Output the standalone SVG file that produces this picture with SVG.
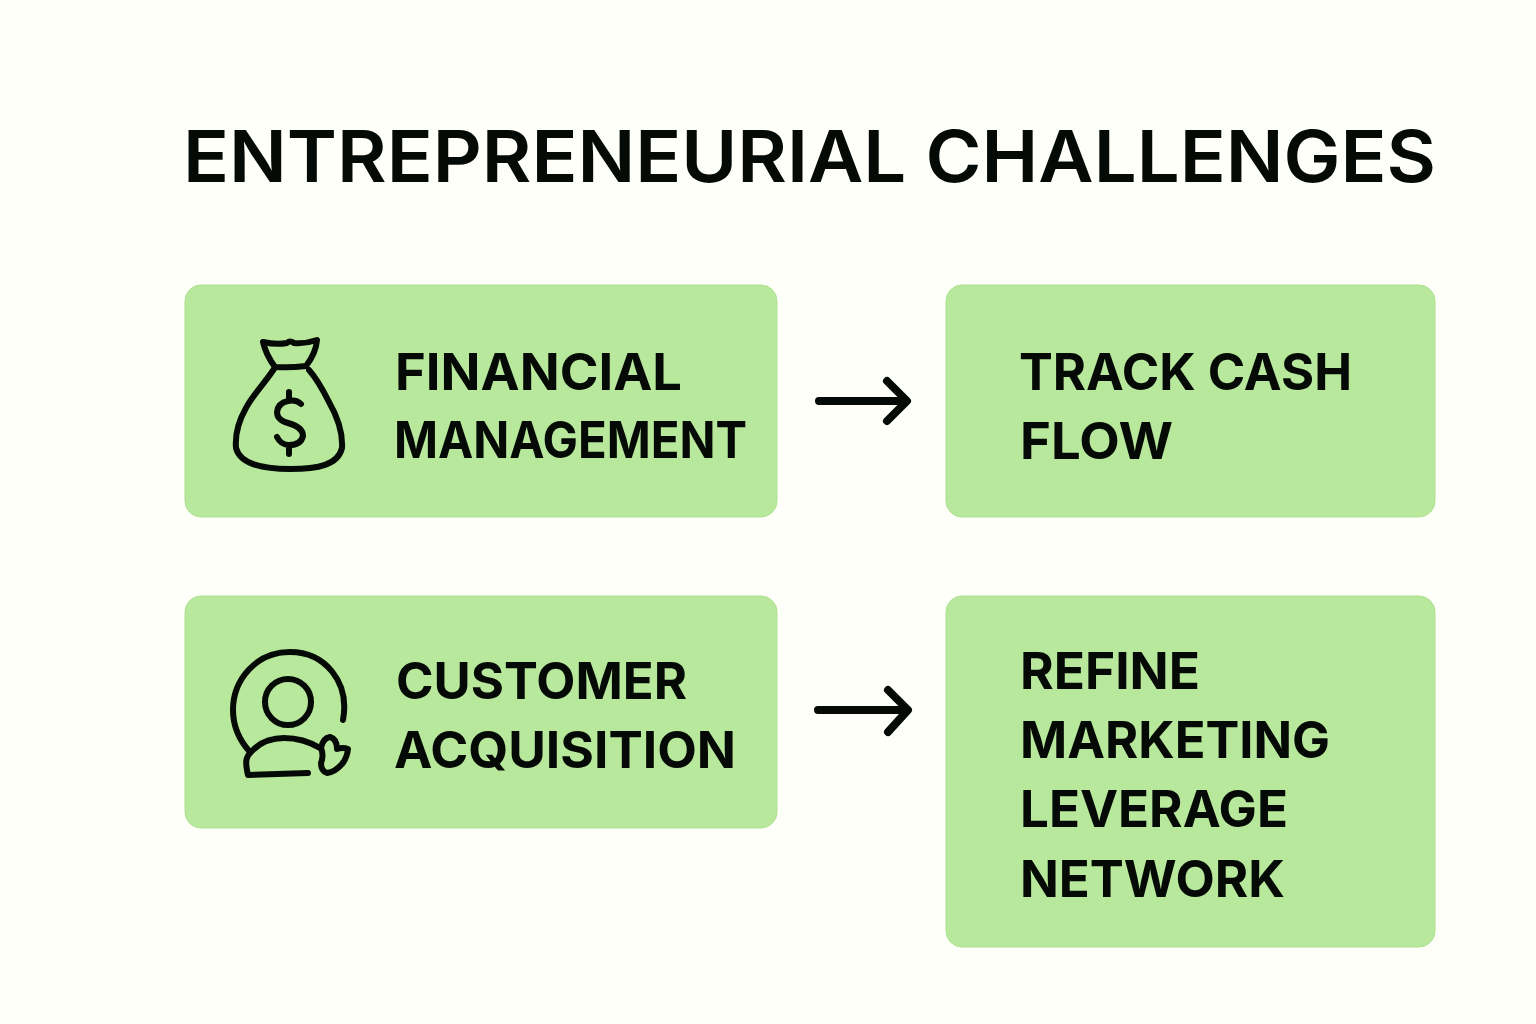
<svg xmlns="http://www.w3.org/2000/svg" width="1536" height="1024" viewBox="0 0 1536 1024">
<style>
.box{fill:#b7e89b;stroke:#aee092;stroke-width:1}
.t{font-family:"Inter","Liberation Sans",sans-serif;font-weight:700;fill:#060a06;font-size:51px}
.title{font-family:"Inter","Liberation Sans",sans-serif;font-weight:600;fill:#060a06;font-size:72px}
.i{fill:none;stroke:#060a06;stroke-width:6;stroke-linecap:round;stroke-linejoin:round}
.a{fill:none;stroke:#060a06;stroke-width:8;stroke-linecap:round;stroke-linejoin:round}
</style>
<rect width="1536" height="1024" fill="#fefff8"/>
<text class="title" x="183" y="182" textLength="1253" lengthAdjust="spacingAndGlyphs">ENTREPRENEURIAL CHALLENGES</text>
<g id="financial"><rect class="box" x="185" y="285" width="592" height="232" rx="16"/>
<path class="i" d="M263 342Q276 345 287 343Q290 340 294 343Q305 344 317 340Q316 353 306 366Q290 368 275 367Q266 355 263 342Z"/>
<path class="i" d="M274 369C264 384 252 396 246 408C238 422 235 436 236 448C240 464 262 469 290 469C318 469 338 465 342 448C343 432 337 416 329 402C323 390 317 379 309 370"/>
<path class="i" d="M301 404Q296 399 288 401Q278 403 277 412Q277 420 288 423Q303 427 303 436Q301 445 289 445Q281 445 277 437M289 392V401M289 446V454"/>
<text class="t" x="395" y="390" textLength="287" lengthAdjust="spacingAndGlyphs">FINANCIAL</text><text class="t" x="394" y="458" textLength="353" lengthAdjust="spacingAndGlyphs">MANAGEMENT</text></g>
<g id="track"><rect class="box" x="946" y="285" width="489" height="232" rx="16"/>
<text class="t" x="1019" y="390" textLength="333" lengthAdjust="spacingAndGlyphs">TRACK CASH</text><text class="t" x="1020" y="459" textLength="153" lengthAdjust="spacingAndGlyphs">FLOW</text></g>
<g id="customer"><rect class="box" x="185" y="596" width="592" height="232" rx="16"/>
<path class="i" d="M343 720C350 682 325 652 290 652C256 652 233 680 233 710C233 727 240 741 250 752"/>
<circle class="i" cx="288" cy="702" r="23"/>
<path class="i" d="M308 773L248 775C245 762 245 757 253 750C262 741 272 738 284 738C298 738 310 742 320 748"/>
<path class="i" d="M321 748Q323 738 330 737Q337 739 337 749Q343 747 348 749Q347 758 342 764Q335 772 327 773Q321 771 321 763Q324 755 321 748Z"/>
<text class="t" x="396" y="699" textLength="291" lengthAdjust="spacingAndGlyphs">CUSTOMER</text><text class="t" x="394" y="768" textLength="342" lengthAdjust="spacingAndGlyphs">ACQUISITION</text></g>
<g id="refine"><rect class="box" x="946" y="596" width="489" height="351" rx="16"/>
<text class="t" x="1020" y="689" textLength="180" lengthAdjust="spacingAndGlyphs">REFINE</text><text class="t" x="1020" y="758" textLength="310" lengthAdjust="spacingAndGlyphs">MARKETING</text><text class="t" x="1020" y="827" textLength="268" lengthAdjust="spacingAndGlyphs">LEVERAGE</text><text class="t" x="1020" y="897" textLength="265" lengthAdjust="spacingAndGlyphs">NETWORK</text></g>
<g id="connectors"><path class="a" d="M819 401H906M887 381L907 401L887 421"/><path class="a" d="M818 710H907M888 690L908 710L888 732"/></g>
</svg>
